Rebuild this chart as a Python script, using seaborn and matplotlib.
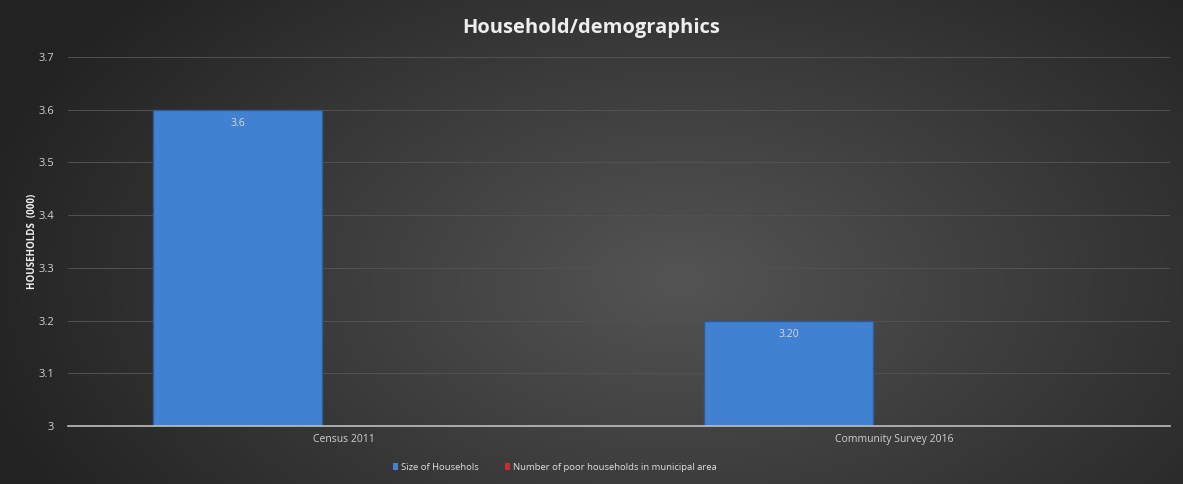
import numpy as np
import pandas as pd
import matplotlib
matplotlib.use("Agg")
import matplotlib.pyplot as plt
from matplotlib.patches import Patch
import seaborn as sns

categories = ["Census 2011", "Community Survey 2016"]
series_names = ["Size of Househols", "Number of poor households in municipal area"]
size_values = [3.6, 3.2]
poor_values = [np.nan, np.nan]
value_labels = ["3.6", "3.20"]
yticks = [3.0, 3.1, 3.2, 3.3, 3.4, 3.5, 3.6, 3.7]
ytick_labels = ["3", "3.1", "3.2", "3.3", "3.4", "3.5", "3.6", "3.7"]

df = pd.DataFrame({
    "category": categories * 2,
    "series": [series_names[0]] * 2 + [series_names[1]] * 2,
    "value": size_values + poor_values,
})

sns.set_theme(style="dark")
plt.rcParams['font.family'] = ['Open Sans', 'DejaVu Sans']

W, H = 1183, 484
fig = plt.figure(figsize=(W / 100, H / 100), dpi=100)

# radial gradient background
bg = fig.add_axes([0, 0, 1, 1], zorder=-10)
yy, xx = np.mgrid[0:H, 0:W]
d = np.sqrt(((xx - 680) / 720.0) ** 2 + ((yy - 280) / 430.0) ** 2)
d = np.clip(d, 0, 1)
c = 0x54 / 255 * (1 - d) + 0x23 / 255 * d
img = np.dstack([c, c, c])
bg.imshow(img, aspect="auto", extent=[0, 1, 0, 1])
bg.axis("off")

ax = fig.add_axes([68 / W, 1 - 426 / H, (1170 - 68) / W, (426 - 57) / H])
ax.patch.set_alpha(0)
blue = "#4181D2"
red = "#C3302E"
sns.barplot(data=df, x="category", y="value", hue="series",
            hue_order=series_names, palette=[blue, red], saturation=1,
            width=0.77, gap=0.2, ax=ax, legend=False,
            edgecolor="#2E5C98", linewidth=1.0, err_kws={"linewidth": 0})

ax.set_ylim(3.0, 3.7)
ax.set_xlim(-0.5, 1.5)
ax.set_yticks(yticks)
ax.set_yticklabels(ytick_labels)
ax.tick_params(axis="y", colors="#d0d0d0", labelsize=8, length=0, pad=10)
ax.tick_params(axis="x", colors="#d0d0d0", labelsize=7.5, length=0, pad=6)
ax.set_xlabel("")
ax.set_ylabel("HOUSEHOLDS  (000)", color="#f0f0f0", fontsize=7,
              fontweight="bold", labelpad=0)
ax.grid(axis="y", color="#525252", linewidth=0.7)
ax.grid(axis="x", visible=False)
ax.set_axisbelow(True)
for s in ["top", "right", "left"]:
    ax.spines[s].set_visible(False)
ax.spines["bottom"].set_color("#bfbfbf")
ax.spines["bottom"].set_linewidth(1.2)

# value labels
for cont in ax.containers[:1]:
    ax.bar_label(cont, labels=value_labels, label_type="edge", padding=-14,
                 color="#d8d8d8", fontsize=7.5)

fig.text(0.5, 1 - 28 / H, "Household/demographics", ha="center", va="center",
         color="#eeeeee", fontsize=14.5, fontweight="bold")

handles = [Patch(facecolor=blue, edgecolor="none"), Patch(facecolor=red, edgecolor="none")]
fig.legend(handles, series_names, loc="center", bbox_to_anchor=(555 / W, 1 - 467 / H),
           ncol=2, frameon=False, fontsize=6.8, labelcolor="#e0e0e0",
           handlelength=0.5, handleheight=0.8, handletextpad=0.3, columnspacing=2.8)

fig.savefig("out.png", dpi=100)
